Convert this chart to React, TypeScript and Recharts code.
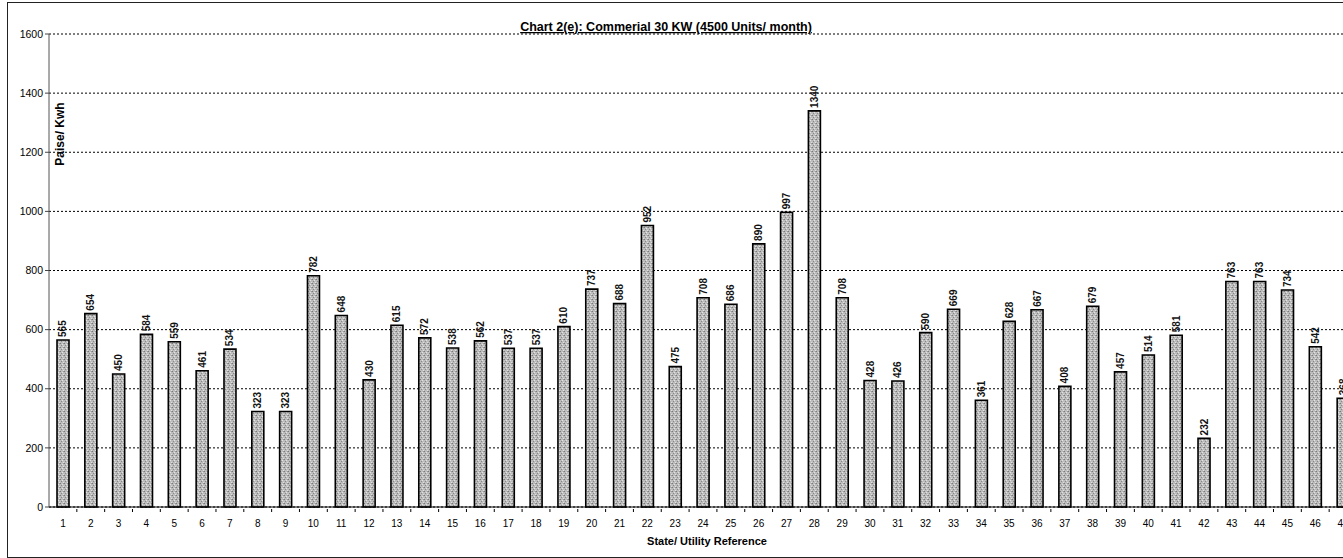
import { Bar, BarChart, CartesianGrid, LabelList, XAxis, YAxis } from 'recharts'

const categories = Array.from({ length: 47 }, (_, i) => String(i + 1));
const tariff = [
  565, 654, 450, 584, 559, 461, 534, 323, 323, 782,
  648, 430, 615, 572, 538, 562, 537, 537, 610, 737,
  688, 952, 475, 708, 686, 890, 997, 1340, 708, 428,
  426, 590, 669, 361, 628, 667, 408, 679, 457, 514,
  581, 232, 763, 763, 734, 542, 368,
];
const yTicks = [0, 200, 400, 600, 800, 1000, 1200, 1400, 1600];

// note: "ref" as a key breaks recharts (spread into props), so use "utility"
const data = categories.map((c, i) => ({ utility: c, value: tariff[i] }));

const W = 1352;
const H = 554;
const M = { top: 31, right: 3, left: 0, bottom: 0 };
const Y_W = 41;
const BAND = (W - M.left - M.right - Y_W) / categories.length;
const FONT = "Arial, 'Liberation Sans', sans-serif";

function renderXTick(props: any) {
  const { x, y, payload } = props;
  return (
    <g key={`xt-${payload.value}`}>
      <line x1={x + BAND / 2} x2={x + BAND / 2} y1={y} y2={y + 3} stroke="#000" />
      <text x={x} y={y + 18} textAnchor="middle" fontSize={10} fontFamily={FONT} fill="#000">
        {payload.value}
      </text>
    </g>
  );
}

function renderValueLabel(props: any) {
  const { x, y, width, value, index } = props;
  const cx = x + width / 2 + 3.5;
  const cy = y - 3;
  return (
    <text key={`vl-${index}`} x={cx} y={cy} transform={`rotate(-90 ${cx} ${cy})`} fontSize={10} fontWeight="bold" fontFamily={FONT} fill="#111" textAnchor="start">
      {value}
    </text>
  );
}

export default function App() {
  return (
    <div style={{
      position: 'absolute', left: 7, top: 2, width: 1336, height: 554, overflow: 'hidden',
      borderLeft: '1px solid #222', borderTop: '1px solid #222', borderBottom: '2px solid #222',
      background: '#fff',
    }}>
      <BarChart width={W} height={H} data={data} margin={M} barSize={12}>
        <defs>
          <pattern id="stipple" width="4" height="4" patternUnits="userSpaceOnUse">
            <rect width="4" height="4" fill="#bcbcbc" />
            <rect x="0" y="0" width="1" height="1" fill="#7a7a7a" />
            <rect x="2" y="1" width="1" height="1" fill="#e4e4e4" />
            <rect x="1" y="2" width="1" height="1" fill="#888" />
            <rect x="3" y="3" width="1" height="1" fill="#e0e0e0" />
            <rect x="3" y="0" width="1" height="1" fill="#999" />
          </pattern>
        </defs>
        <CartesianGrid vertical={false} stroke="#000" strokeDasharray="2 2" />
        <XAxis
          dataKey="utility"
          tick={(p: any) => renderXTick(p)}
          tickLine={false}
          tickSize={0}
          axisLine={{ stroke: '#000' }}
          interval={0}
          height={50}
        />
        <YAxis
          width={Y_W}
          domain={[0, 1600]}
          ticks={yTicks}
          tick={{ fontSize: 10.5, fill: '#000', fontFamily: FONT }}
          tickSize={4}
          tickMargin={2}
          tickLine={{ stroke: '#444' }}
          axisLine={{ stroke: '#555' }}
        />
        <Bar dataKey="value" fill="url(#stipple)" stroke="#000" strokeWidth={1.6} isAnimationActive={false}>
          <LabelList dataKey="value" content={(p: any) => renderValueLabel(p)} />
        </Bar>
        <text x={658} y={28} textAnchor="middle" fontSize={12.5} fontWeight="bold" fontFamily={FONT} textDecoration="underline" fill="#000">
          Chart 2(e): Commerial 30 KW (4500 Units/ month)
        </text>
        <text x={56} y={131} transform="rotate(-90 56 131)" textAnchor="middle" fontSize={12} fontWeight="bold" fontFamily={FONT} fill="#000">
          Paise/ Kwh
        </text>
        <text x={699} y={542} textAnchor="middle" fontSize={11} fontWeight="bold" fontFamily={FONT} fill="#000">
          State/ Utility  Reference
        </text>
      </BarChart>
    </div>
  );
}
